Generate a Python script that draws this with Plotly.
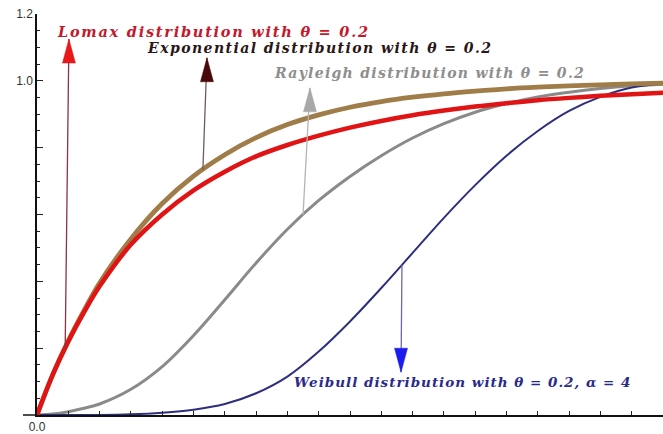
import numpy as np
import plotly.graph_objects as go

# Sample points on the horizontal axis
x_vals = [0, 0.5, 1, 1.5, 2, 3, 4, 5, 6, 7, 8, 9, 10, 11, 12, 13, 14, 15, 16, 17, 18, 19, 20]

# Cumulative distribution values, theta = 0.2
lomax_cdf = [0, 0.12, 0.22, 0.307, 0.385, 0.51, 0.60, 0.672, 0.728, 0.774, 0.808, 0.836, 0.86,
             0.88, 0.897, 0.911, 0.923, 0.933, 0.942, 0.949, 0.955, 0.960, 0.964]
exponential_cdf = [0, 0.12, 0.222, 0.312, 0.395, 0.527, 0.633, 0.715, 0.779, 0.83, 0.869, 0.898, 0.921,
                   0.938, 0.951, 0.961, 0.969, 0.976, 0.981, 0.985, 0.988, 0.991, 0.993]
rayleigh_cdf = [0, 0.003, 0.01, 0.02, 0.033, 0.077, 0.145, 0.238, 0.345, 0.455, 0.556, 0.642, 0.714,
                0.776, 0.829, 0.872, 0.906, 0.932, 0.952, 0.966, 0.977, 0.985, 0.99]
weibull_cdf = [0, 0, 0, 0, 0, 0.002, 0.007, 0.016, 0.033, 0.065, 0.115, 0.19, 0.28,
               0.38, 0.485, 0.59, 0.688, 0.776, 0.85, 0.91, 0.952, 0.98, 0.992]

# Tick labels
y_tick_vals = [0, 0.2, 0.4, 0.6, 0.8, 1.0, 1.2]
y_tick_text = ["", "", "", "", "", "1.0", "1.2"]
x_tick_vals = list(range(0, 21))
x_tick_text = ["0.0"] + [""] * 20

fig = go.Figure()

series = [
    ("Rayleigh", rayleigh_cdf, "#8a8a8a", 3),
    ("Weibull", weibull_cdf, "#2e2e7e", 2),
    ("Exponential", exponential_cdf, "#a07c48", 4.8),
    ("Lomax", lomax_cdf, "#e01414", 4.5),
]
for name, vals, color, width in series:
    fig.add_trace(go.Scatter(
        x=x_vals, y=vals, mode="lines", name=name,
        line=dict(color=color, width=width, shape="spline", smoothing=1.0),
        showlegend=False, hoverinfo="skip",
    ))

label_font = "DejaVu Serif"
labels = [
    ("<b><i>Lomax distribution with θ = 0.2</i></b>", 0.58, 1.149, "#c4182c", 14.5),
    ("<b><i>Exponential distribution with θ = 0.2</i></b>", 3.45, 1.099, "#2a1616", 14),
    ("<b><i>Rayleigh distribution with θ = 0.2</i></b>", 7.5, 1.024, "#8e8e8e", 14),
    ("<b><i>Weibull distribution with θ = 0.2, α = 4</i></b>", 8.15, 0.098, "#2a2a8c", 13.5),
]
for text, lx, ly, color, size in labels:
    fig.add_annotation(x=lx, y=ly, xref="x", yref="y", text=text, showarrow=False,
                       xanchor="left", yanchor="middle",
                       font=dict(family=label_font, size=size, color=color))

# Pointer arrows: tail sits on a curve, tip points at the label
arrows = [
    (0.9, lomax_cdf, 1.02, 1.125, "#8a3444", "#e81818", 1),
    (5.3, exponential_cdf, 5.43, 1.069, "#6e5c5c", "#4a0808", 1),
    (8.5, rayleigh_cdf, 8.72, 0.979, "#b4b4b4", "#a8a8a8", 1),
    (11.66, weibull_cdf, 11.63, 0.128, "#6a6aa8", "#1c1cee", -1),
]
for tx, curve, hx, hy, line_color, head_color, direction in arrows:
    ty = float(np.interp(tx, x_vals, curve))
    fig.add_shape(type="line", xref="x", yref="y", x0=tx, y0=ty, x1=hx, y1=hy,
                  line=dict(color=line_color, width=1.3))
    h = 24 * direction
    fig.add_shape(type="path", xref="x", yref="y", xsizemode="pixel", ysizemode="pixel",
                  xanchor=hx, yanchor=hy,
                  path=f"M0,0 L-6.5,{-h} L6.5,{-h} Z",
                  fillcolor=head_color, line=dict(color=head_color, width=0.5))

# Horizontal axis line runs a little past the vertical axis on the left
fig.add_shape(type="line", xref="paper", yref="paper", xsizemode="pixel", xanchor=0,
              x0=-14, x1=0, y0=0, y1=0, line=dict(color="#111111", width=1.5))

fig.update_layout(
    width=663, height=434,
    margin=dict(l=37, r=0, t=14, b=19),
    paper_bgcolor="white", plot_bgcolor="white",
    showlegend=False,
)
fig.update_xaxes(
    range=[0, 20], showgrid=False, zeroline=False,
    showline=True, linecolor="#111111", linewidth=1.5,
    tickmode="array", tickvals=x_tick_vals, ticktext=x_tick_text,
    ticks="inside", ticklen=4, tickcolor="#222222",
    tickfont=dict(family="Liberation Sans", size=12, color="#333333"),
)
fig.update_yaxes(
    range=[0, 1.2], showgrid=False, zeroline=False,
    showline=True, linecolor="#111111", linewidth=1.5,
    tickmode="array", tickvals=y_tick_vals, ticktext=y_tick_text,
    ticks="inside", ticklen=6, tickcolor="#222222",
    tickfont=dict(family="Liberation Sans", size=12, color="#333333"),
    minor=dict(tickmode="linear", tick0=0, dtick=0.05, ticks="inside", ticklen=3,
               tickcolor="#222222", showgrid=False),
)

# Widen the letter spacing of the curve labels once the plot is drawn,
# keeping each label's left edge where it was placed
spacing_js = """
var gd = document.getElementById('{plot_id}');
var spacing = [1.75, 1.45, 1.3, 1.0];
gd.querySelectorAll('.annotation').forEach(function (a) {
  var i = parseInt(a.getAttribute('data-index'), 10);
  var t = a.querySelector('.annotation-text');
  if (!t || isNaN(i)) { return; }
  var left0 = t.getBBox().x;
  t.style.letterSpacing = spacing[i] + 'px';
  var left1 = t.getBBox().x;
  t.style.transform = 'translate(' + (left0 - left1) + 'px, 0px)';
});
"""

fig.write_html("out.html", post_script=spacing_js)
